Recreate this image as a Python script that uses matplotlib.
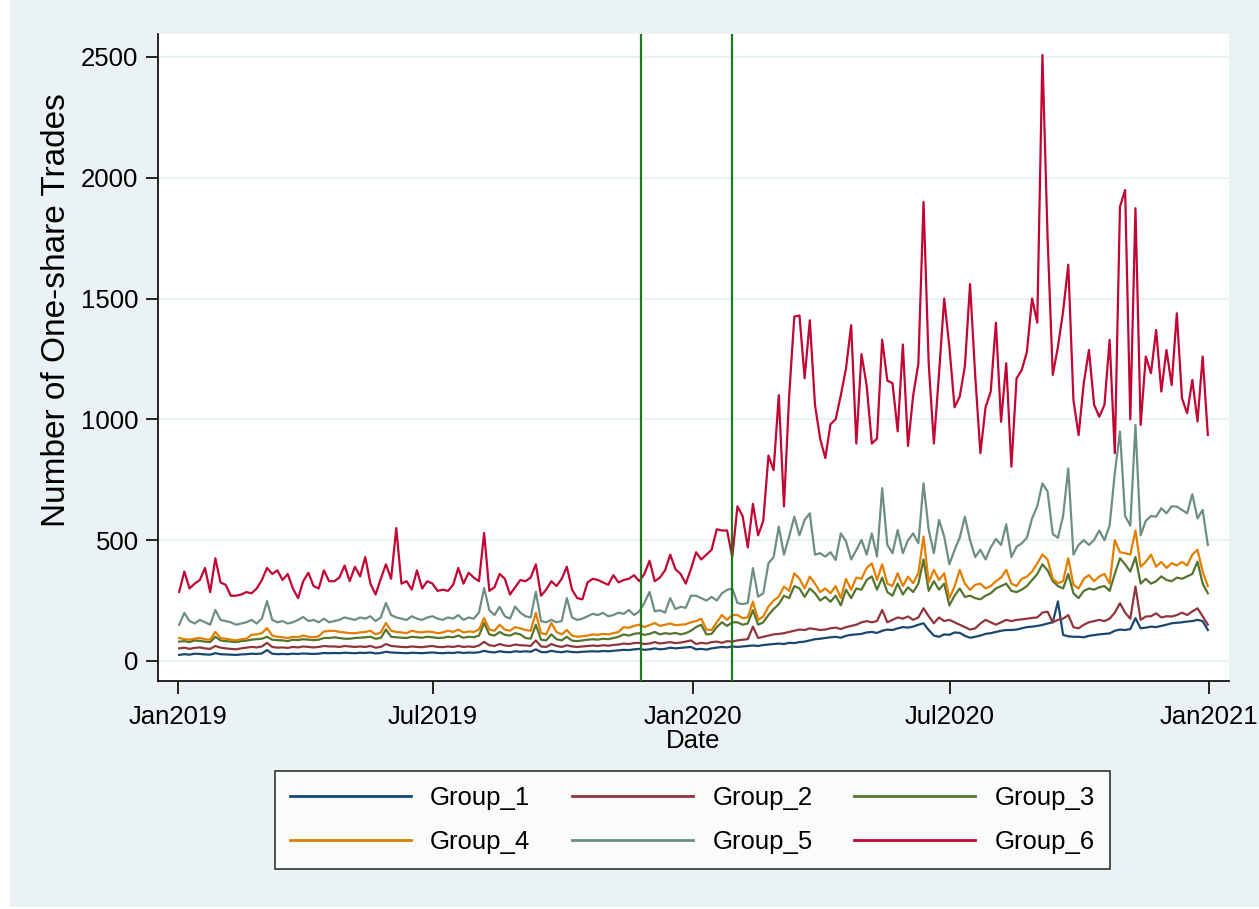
import matplotlib
matplotlib.use("Agg")
import matplotlib.pyplot as plt
import matplotlib.dates as mdates
import pandas as pd

# sampled roughly every 3-4 days, Jan 2019 - Dec 2020
dates = pd.date_range("2019-01-02", "2020-12-31", periods=200)

group_1 = [
    25, 28, 26, 30, 29, 27, 26, 32, 28, 27, 26, 25, 27, 28, 30, 29, 31, 45, 30, 28,
    29, 28, 30, 29, 31, 30, 29, 30, 33, 32, 33, 32, 34, 33,
    32, 34, 33, 35, 31, 33, 38, 35, 34, 33, 32, 34, 33, 32, 34, 35, 33, 32, 34, 33,
    36, 33, 35, 34, 36, 42, 37, 35, 40, 37, 36, 40, 38,
    40, 38, 48, 37, 36, 42, 38, 36, 40, 37, 36, 38, 39, 40, 39, 41, 40, 42, 44, 46,
    45, 48, 50, 46, 48, 52, 48, 50, 55, 52, 54, 56, 58,
    48, 50, 47, 52, 55, 58, 56, 60, 58, 60, 62, 64, 62, 66, 68, 70, 72, 70, 75, 74,
    78, 80, 85, 90, 92, 95, 98, 100, 96, 104, 108, 110, 112, 118, 120, 116, 125, 130,
    128, 135, 140, 138, 142, 150, 156, 128, 105, 100, 110, 108, 118,
    116, 104, 96, 100, 105, 112, 115, 120, 125, 128, 128, 130, 135, 140, 142, 145,
    149, 155, 160, 246, 108, 102, 100, 100, 98, 104, 107, 110, 112, 114, 125, 130,
    128, 132, 177, 135, 138, 142, 140, 145, 150, 156, 158, 160, 163, 165, 170, 165, 128,
]
group_2 = [
    52, 55, 50, 54, 56, 52, 50, 62, 55, 52, 50, 48, 52, 55, 58, 56, 60, 75, 58, 55,
    56, 54, 58, 56, 60, 58, 56, 58, 62, 60, 60, 58, 62, 60,
    58, 60, 58, 62, 55, 58, 70, 62, 60, 58, 57, 60, 58, 57, 60, 62, 58, 57, 60, 58,
    62, 58, 60, 58, 64, 79, 65, 62, 70, 64, 62, 68, 65,
    64, 62, 85, 60, 58, 70, 62, 58, 65, 60, 58, 60, 62, 64, 62, 65, 63, 66, 68, 72,
    70, 74, 75, 70, 72, 78, 72, 75, 78, 74, 76, 80, 85,
    70, 75, 72, 78, 80, 75, 82, 80, 85, 88, 90, 142, 95, 100, 105, 110, 112, 115,
    120, 125, 130, 128, 135, 132, 128, 130, 135, 138, 132, 140, 145, 150, 160, 165,
    160, 165, 211, 160, 170, 180, 175, 184, 170, 180, 218, 185, 156, 180, 165, 170, 160,
    150, 140, 130, 135, 155, 170, 160, 150, 160, 170, 165, 170, 172, 175, 178, 180,
    200, 204, 160, 170, 175, 190, 140, 135, 150, 160, 165, 170, 165, 175, 200, 239,
    200, 175, 308, 170, 184, 185, 197, 180, 185, 184, 190, 200, 190, 205, 218, 185, 150,
]
group_3 = [
    80, 82, 78, 85, 83, 80, 78, 100, 85, 82, 80, 78, 82, 84, 88, 90, 92, 100, 88, 86,
    85, 82, 88, 86, 90, 88, 86, 88, 95, 95, 98, 95, 92, 92,
    95, 96, 98, 100, 92, 95, 130, 100, 98, 96, 95, 100, 98, 96, 100, 98, 95, 96, 100,
    98, 105, 96, 100, 98, 105, 157, 110, 105, 120, 108, 105, 115, 110,
    95, 92, 150, 88, 85, 110, 90, 85, 100, 84, 82, 85, 88, 90, 88, 92, 90, 95, 100,
    110, 105, 112, 115, 108, 112, 120, 110, 115, 112, 116, 110, 115, 125,
    140, 150, 110, 112, 140, 160, 145, 160, 160, 150, 155, 210, 150, 160, 190, 215,
    235, 270, 260, 310, 300, 265, 300, 280, 250, 265, 245, 270, 230, 295, 260, 300,
    295, 335, 350, 295, 345, 285, 270, 320, 275, 305, 285, 320, 420, 290, 330, 295,
    320, 230, 270,
    300, 265, 270, 260, 255, 270, 280, 300, 310, 320, 290, 285, 295, 310, 335, 360,
    400, 375, 330, 310, 300, 360, 280, 260, 290, 300, 295, 305, 310, 290, 360, 425,
    400, 370, 430, 320, 340, 320, 330, 350, 335, 330, 345, 340, 350, 360, 411, 320, 280,
]
group_4 = [
    95, 90, 88, 92, 95, 90, 88, 120, 95, 92, 88, 85, 90, 92, 108, 110, 115, 136, 105,
    100, 98, 95, 100, 98, 105, 100, 98, 102, 122, 124, 125, 120, 118, 115,
    115, 118, 120, 125, 110, 118, 157, 125, 120, 118, 115, 125, 120, 118, 122, 120,
    115, 118, 125, 120, 130, 118, 122, 120, 130, 178, 130, 125, 150, 130, 125, 140, 135,
    128, 125, 199, 115, 110, 157, 120, 110, 128, 105, 100, 102, 105, 110, 108, 112,
    110, 115, 120, 140, 137, 145, 150, 140, 148, 157, 145, 150, 155, 148, 150, 152, 160,
    165, 175, 130, 128, 160, 190, 170, 190, 190, 177, 180, 246, 170, 184, 225, 250,
    266, 308, 290, 363, 340, 300, 349, 320, 285, 300, 280, 310, 260, 340, 294, 345,
    340, 385, 404, 335, 400, 320, 310, 363, 310, 349, 322, 363, 515, 325, 377, 335,
    363, 260, 308,
    377, 320, 294, 315, 320, 300, 310, 330, 345, 377, 320, 310, 340, 349, 370, 404,
    440, 420, 340, 322, 330, 425, 315, 300, 340, 355, 330, 350, 360, 320, 500, 450,
    446, 440, 540, 390, 410, 440, 390, 410, 385, 405, 395, 410, 395, 440, 460, 370, 310,
]
group_5 = [
    150, 199, 165, 155, 170, 160, 150, 211, 170, 165, 160, 150, 155, 160, 170, 155,
    175, 248, 170, 160, 165, 155, 160, 170, 182, 165, 170, 160, 175, 160, 165, 170, 180, 175,
    170, 180, 175, 185, 165, 180, 240, 190, 180, 175, 170, 185, 175, 170, 180, 185,
    175, 170, 180, 175, 190, 170, 180, 175, 200, 302, 210, 190, 224, 185, 175, 225, 200,
    185, 180, 286, 165, 160, 170, 160, 165, 260, 180, 170, 175, 185, 195, 190, 199,
    185, 190, 200, 195, 211, 190, 205, 240, 286, 205, 210, 200, 260, 215, 224, 220, 270,
    270, 260, 250, 265, 250, 280, 294, 300, 240, 235, 240, 384, 266, 280, 404, 430,
    556, 440, 515, 597, 520, 584, 611, 440, 446, 432, 450, 418, 528, 495, 420, 459,
    501, 440, 528, 432, 715, 480, 446, 542, 446, 500, 528, 487, 735, 542, 446, 584,
    515, 400, 459,
    510, 597, 500, 430, 460, 420, 470, 505, 480, 565, 430, 473, 487, 510, 590, 640,
    735, 701, 525, 510, 600, 797, 440, 480, 500, 480, 501, 540, 500, 560, 777, 950,
    600, 560, 977, 520, 580, 600, 597, 632, 611, 640, 639, 625, 611, 690, 590, 625, 480,
]
group_6 = [
    286, 370, 300, 320, 335, 385, 285, 425, 325, 315, 270, 270, 275, 285, 280, 300,
    335, 385, 360, 375, 335, 360, 300, 260, 330, 365, 310, 300, 375, 330, 330, 345, 395, 330,
    390, 350, 430, 320, 275, 340, 400, 340, 550, 320, 330, 295, 375, 300, 330, 320,
    290, 295, 290, 315, 385, 320, 365, 345, 330, 530, 290, 305, 360, 340, 275, 305, 335,
    330, 345, 400, 270, 295, 330, 310, 340, 390, 295, 260, 255, 325, 340, 335, 325,
    315, 355, 325, 335, 340, 355, 330, 360, 415, 330, 345, 375, 440, 380, 360, 320, 380,
    450, 420, 440, 460, 545, 540, 540, 430, 640, 600, 470, 650, 520, 580, 850, 790,
    1100, 640, 1094, 1425, 1430, 1170, 1410, 1060, 920, 840, 980, 1000, 1100, 1210,
    1390, 900, 1270, 1140, 900, 920, 1330, 1160, 1150, 950, 1310, 890, 1100, 1230,
    1900, 1230, 900, 1190, 1500, 1300, 1050,
    1094, 1220, 1560, 1180, 860, 1050, 1115, 1400, 990, 1232, 804, 1170, 1204, 1280,
    1500, 1400, 2508, 1750, 1184, 1300, 1446, 1640, 1080, 935, 1150, 1287, 1060, 1011,
    1060, 1329, 860, 1880, 1949, 1000, 1874, 977, 1260, 1191, 1370, 1115, 1287, 1142,
    1439, 1087, 1025, 1163, 991, 1260, 935,
]

groups = ["Group_1", "Group_2", "Group_3", "Group_4", "Group_5", "Group_6"]
series = [group_1, group_2, group_3, group_4, group_5, group_6]
colors = ["#1a476f", "#90353b", "#55752f", "#e37e00", "#6e8e84", "#c10534"]
event_dates = ["2019-11-25", "2020-01-29"]

for s in series:
    assert len(s) == len(dates), len(s)

bg = "#eaf2f3"
plt.rcParams["font.family"] = ["Liberation Sans", "DejaVu Sans"]

fig = plt.figure(figsize=(12.59, 9.09), dpi=100, facecolor=bg)
# thin white margin on the left/bottom edge of the original screenshot
fig.patches.append(plt.Rectangle((0, 0), 10 / 1259, 1, transform=fig.transFigure,
                                 facecolor="white", edgecolor="none", zorder=0))
fig.patches.append(plt.Rectangle((0, 0), 1, 2 / 909, transform=fig.transFigure,
                                 facecolor="white", edgecolor="none", zorder=0))

ax = fig.add_axes([158 / 1259, 1 - 681 / 909, (1229 - 158) / 1259, (681 - 34) / 909])
ax.set_facecolor("white")

lines = []
for name, vals, c in zip(groups, series, colors):
    ln, = ax.plot(dates, vals, color=c, lw=1.6, label=name)
    lines.append(ln)

for d in event_dates:
    ax.axvline(pd.Timestamp(d), color="#1f7a1f", lw=1.6, zorder=5)

ax.set_ylim(-83, 2595)
ax.set_xlim(pd.Timestamp("2018-12-18"), pd.Timestamp("2021-01-15"))
ax.set_yticks([0, 500, 1000, 1500, 2000, 2500])
ax.set_xticks(pd.to_datetime(["2019-01-01", "2019-07-01", "2020-01-01", "2020-07-01", "2021-01-01"]))
ax.xaxis.set_major_formatter(mdates.DateFormatter("%b%Y"))
ax.grid(axis="y", color=bg, lw=1.6)
ax.set_axisbelow(True)

for side in ["top", "right"]:
    ax.spines[side].set_visible(False)
for side in ["left", "bottom"]:
    ax.spines[side].set_linewidth(1.2)
ax.tick_params(direction="out", length=9, width=1.2, labelsize=18.5)
ax.tick_params(axis="x", pad=8)
ax.tick_params(axis="y", pad=5)

ax.set_xlabel("Date", fontsize=18.5)
ax.xaxis.set_label_coords(0.5, (681 - 729) / 647)
ax.set_ylabel("Number of One-share Trades", fontsize=24)
ax.yaxis.set_label_coords((72 - 158) / 1071, (681 - 310) / 647)

# row-wise legend order like the original
order = [0, 3, 1, 4, 2, 5]
leg = fig.legend([lines[i] for i in order], [groups[i] for i in order],
                 loc="center", bbox_to_anchor=(0.55, 0.098), ncol=3, fontsize=18.5,
                 frameon=True, fancybox=False, edgecolor="black", handlelength=4.7,
                 handletextpad=0.75, columnspacing=1.63, labelspacing=0.77,
                 borderpad=0.6)
leg.get_frame().set_linewidth(1.2)
for h in leg.get_lines():
    h.set_linewidth(2.0)

fig.savefig("out.png", dpi=100, facecolor=bg)
